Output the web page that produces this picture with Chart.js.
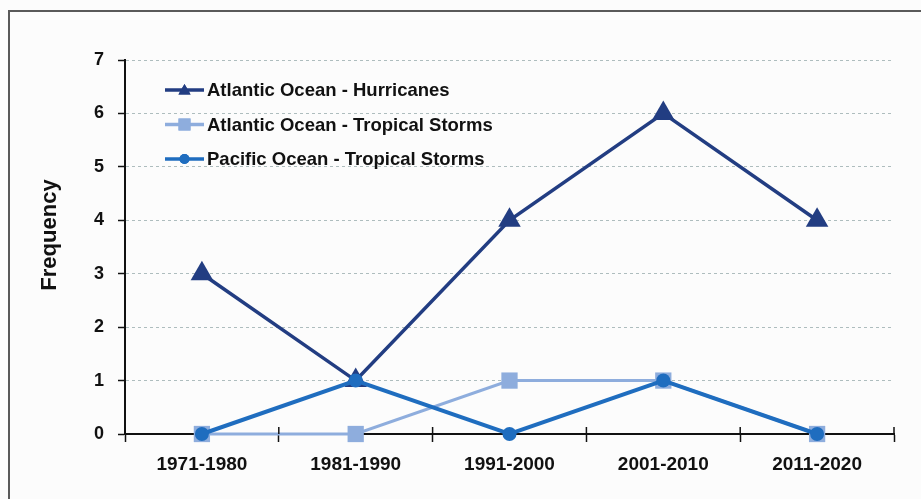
<!DOCTYPE html>
<html>
<head>
<meta charset="utf-8">
<script src="https://cdn.jsdelivr.net/npm/chart.js@4/dist/chart.umd.min.js"></script>
<style>
  html, body { margin: 0; padding: 0; background: #fcfcfc; overflow: hidden; }
  canvas { display: block; }
</style>
</head>
<body>
<canvas id="c" width="921" height="499"></canvas>
<script>
// Decades on the horizontal axis
const decades = ['1971-1980', '1981-1990', '1991-2000', '2001-2010', '2011-2020'];

// Event counts per decade
const atlanticHurricanes = [3, 1, 4, 6, 4];
const atlanticTropicalStorms = [0, 0, 1, 1, 0];
const pacificTropicalStorms = [0, 1, 0, 1, 0];

const seriesNames = [
  'Atlantic Ocean - Hurricanes',
  'Atlantic Ocean - Tropical Storms',
  'Pacific Ocean - Tropical Storms'
];

const yTicks = [0, 1, 2, 3, 4, 5, 6, 7];
const yTitle = 'Frequency';

const FONT = '"Liberation Sans", Arial, sans-serif';
const NAVY = '#223d82';
const LIGHT = '#8eaddd';
const MID = '#1f6dbf';
const INK = '#111';

// Page background and the grey frame along the top and left edges
const frame = {
  id: 'frame',
  beforeDraw(chart) {
    const ctx = chart.ctx;
    ctx.save();
    ctx.fillStyle = '#fcfcfc';
    ctx.fillRect(0, 0, chart.width, chart.height);
    ctx.strokeStyle = '#5a5a5a';
    ctx.lineWidth = 2;
    ctx.beginPath();
    ctx.moveTo(9, chart.height);
    ctx.lineTo(9, 11);
    ctx.lineTo(chart.width, 11);
    ctx.stroke();
    ctx.restore();
  }
};

// Legend drawn inside the plot area, top-left
const insideLegend = {
  id: 'insideLegend',
  afterDraw(chart) {
    const ctx = chart.ctx;
    const a = chart.chartArea;
    const legendMarks = [
      { style: 'triangle', r: 7, color: NAVY, line: 3.5 },
      { style: 'rect', r: 8.5, color: LIGHT, line: 3.5 },
      { style: 'circle', r: 5, color: MID, line: 3.5 }
    ];
    const x0 = a.left + 40, x1 = a.left + 79;
    ctx.save();
    legendMarks.forEach((m, i) => {
      const y = a.top + 30 + i * 34.5;
      ctx.strokeStyle = m.color;
      ctx.lineWidth = m.line;
      ctx.beginPath();
      ctx.moveTo(x0, y);
      ctx.lineTo(x1, y);
      ctx.stroke();
      ctx.fillStyle = m.color;
      Chart.helpers.drawPoint(ctx, { pointStyle: m.style, radius: m.r, borderWidth: 0, rotation: 0 },
        (x0 + x1) / 2, y + (m.style === 'triangle' ? 1 : 0));
      ctx.fill();
      ctx.fillStyle = INK;
      ctx.font = 'bold 18.5px ' + FONT;
      ctx.textBaseline = 'middle';
      ctx.textAlign = 'left';
      ctx.fillText(seriesNames[i], x1 + 3, y + 1);
    });
    ctx.restore();
  }
};

// Category separators crossing the x axis line, and the rotated axis title
const axisExtras = {
  id: 'axisExtras',
  afterDatasetsDraw(chart) {
    const xs = chart.scales.x;
    const ctx = chart.ctx;
    const a = chart.chartArea;
    ctx.save();
    ctx.strokeStyle = INK;
    ctx.lineWidth = 1.5;
    for (let i = 0; i <= decades.length; i++) {
      const px = xs.getPixelForValue(i - 0.5);
      ctx.beginPath();
      ctx.moveTo(px, a.bottom - 7);
      ctx.lineTo(px, a.bottom);
      ctx.stroke();
    }
    ctx.translate(a.left - 75, (a.top + a.bottom) / 2 - 12);
    ctx.rotate(-Math.PI / 2);
    ctx.fillStyle = INK;
    ctx.font = 'bold 22px ' + FONT;
    ctx.textAlign = 'center';
    ctx.textBaseline = 'middle';
    ctx.fillText(yTitle, 0, 0);
    ctx.restore();
  }
};

new Chart(document.getElementById('c'), {
  type: 'line',
  data: {
    labels: decades,
    datasets: [
      {
        label: seriesNames[0],
        data: atlanticHurricanes,
        borderColor: NAVY,
        backgroundColor: NAVY,
        borderWidth: 3.5,
        pointStyle: 'triangle',
        pointRadius: 13,
        pointHoverRadius: 13,
        pointBorderWidth: 0,
        clip: false,
        order: 3
      },
      {
        label: seriesNames[1],
        data: atlanticTropicalStorms,
        borderColor: LIGHT,
        backgroundColor: LIGHT,
        borderWidth: 3,
        pointStyle: 'rect',
        pointRadius: 11.5,
        pointHoverRadius: 11.5,
        pointBorderWidth: 0,
        clip: false,
        order: 2
      },
      {
        label: seriesNames[2],
        data: pacificTropicalStorms,
        borderColor: MID,
        backgroundColor: MID,
        borderWidth: 4,
        pointStyle: 'circle',
        pointRadius: 7,
        pointHoverRadius: 7,
        pointBorderWidth: 0,
        clip: false,
        order: 1
      }
    ]
  },
  options: {
    responsive: false,
    animation: false,
    layout: { padding: { left: 36, top: 60, right: 27, bottom: 10 } },
    plugins: { legend: { display: false }, tooltip: { enabled: false } },
    scales: {
      x: {
        offset: true,
        afterFit: s => { s.height = 55; },
        border: { color: INK, width: 2 },
        grid: {
          offset: true,
          drawOnChartArea: false,
          tickLength: 8,
          tickColor: INK,
          tickWidth: 1.5
        },
        ticks: {
          color: INK,
          padding: 11,
          font: { family: FONT, size: 19, weight: 'bold' }
        }
      },
      y: {
        min: 0,
        max: 7,
        afterFit: s => { s.width = 89; },
        afterBuildTicks: s => { s.ticks = yTicks.map(v => ({ value: v })); },
        border: { color: INK, width: 2, dash: [3, 3] },
        grid: {
          color: '#aebdbe',
          lineWidth: 1,
          tickBorderDash: [],
          tickColor: INK,
          tickLength: 7,
          tickWidth: 1.5
        },
        ticks: {
          color: INK,
          padding: 14,
          font: { family: FONT, size: 18, weight: 'bold' }
        }
      }
    }
  },
  plugins: [frame, insideLegend, axisExtras]
});
</script>
</body>
</html>
